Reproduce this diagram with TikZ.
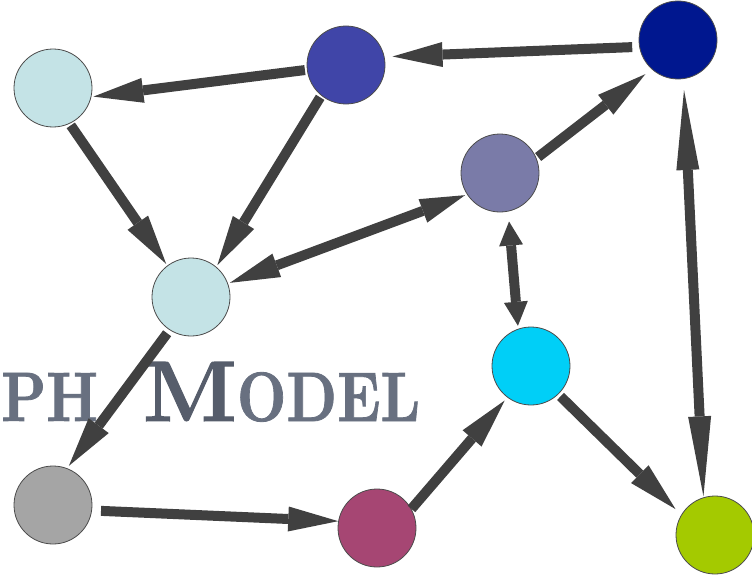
\documentclass[tikz,border=0pt]{standalone}
\usepackage{fontspec}
\usepackage{xcolor}
\usetikzlibrary{arrows.meta,positioning}

\newfontfamily\titlefont{lmroman10-bold}[Extension=.otf,FakeBold=1.2]

\definecolor{arrowgray}{HTML}{404040}
\definecolor{palecyan}{HTML}{C4E3E6}
\definecolor{midblue}{HTML}{4045A8}
\definecolor{navy}{HTML}{00178F}
\definecolor{slate}{HTML}{7A7BA8}
\definecolor{brightcyan}{HTML}{00CFF7}
\definecolor{midgray}{HTML}{A5A5A5}
\definecolor{plum}{HTML}{A64673}
\definecolor{lime}{HTML}{A4CA00}
\definecolor{titlegray}{HTML}{687080}
\definecolor{titledark}{HTML}{565D6B}

\newcommand{\smallcapstext}[1]{\scalebox{0.82}[1]{\fontsize{70}{70}\selectfont #1}}

\begin{document}
\begin{tikzpicture}[x=1pt,y=-1pt,
    vertex/.style={circle,draw=black!70,line width=0.8pt,minimum size=78pt,inner sep=0pt},
    link/.style={line width=10pt,draw=arrowgray,
      -{Triangle[length=50pt,width=25pt,line width=0pt]},
      shorten <=2pt,shorten >=2pt},
    shorttips/.style={{Triangle[length=24pt,width=24pt,line width=0pt]}-{Triangle[length=24pt,width=24pt,line width=0pt]}},
    longtips/.style={{Triangle[length=80pt,width=23pt,line width=0pt]}-{Triangle[length=80pt,width=23pt,line width=0pt]}}
  ]
    \clip (0,0) rectangle (752,578);

    % title
    \node[anchor=base west,inner sep=0pt,text=titlegray,font=\titlefont] (title) at (1,421)
      {\smallcapstext{PH}\hspace{45pt}\textcolor{titledark}{\fontsize{86}{86}\selectfont M}\smallcapstext{ODEL}};

    % vertices
    \node[vertex,fill=palecyan] (paleA) at (53,88) {};
    \node[vertex,fill=midblue] (blueB) at (346,65) {};
    \node[vertex,fill=navy] (navyC) at (678,40) {};
    \node[vertex,fill=palecyan] (paleD) at (191,297) {};
    \node[vertex,fill=slate] (slateE) at (500,173) {};
    \node[vertex,fill=brightcyan] (cyanF) at (531,366) {};
    \node[vertex,fill=midgray] (grayG) at (53,505) {};
    \node[vertex,fill=plum] (plumH) at (377,528) {};
    \node[vertex,fill=lime] (limeI) at (715,535) {};

    % edges
    \draw[link] (blueB.187) -- (paleA.-13);
    \draw[link,shorten <=7pt,shorten >=8pt] (navyC.190) -- (blueB.12);
    \draw[link] (paleA.-65) -- (paleD.127);
    \draw[link] (blueB.-129) -- (paleD.50);
    \draw[link,{Triangle[length=50pt,width=25pt,line width=0pt]}-{Triangle[length=45pt,width=25pt,line width=0pt]}] (paleD.20) -- (slateE.-147);
    \draw[link,shorten >=8pt] (slateE.22) -- (navyC.-132);
    \draw[link,shorttips,shorten <=10pt,shorten >=3pt] (slateE.-78) -- (cyanF.109);
    \draw[link,longtips,shorten <=11pt,shorten >=1pt] (navyC.-82) -- (limeI.107);
    \draw[link,shorten <=4pt,shorten >=3pt] (paleD.-123) -- (grayG.69);
    \draw[link,shorten <=9pt,shorten >=0pt] (grayG.-8) -- (plumH.170);
    \draw[link,shorten <=0pt,shorten >=4pt] (plumH.29) -- (cyanF.-127);
    \draw[link,shorten <=3pt,shorten >=8pt] (cyanF.-46) -- (limeI.149);
\end{tikzpicture}
\end{document}
